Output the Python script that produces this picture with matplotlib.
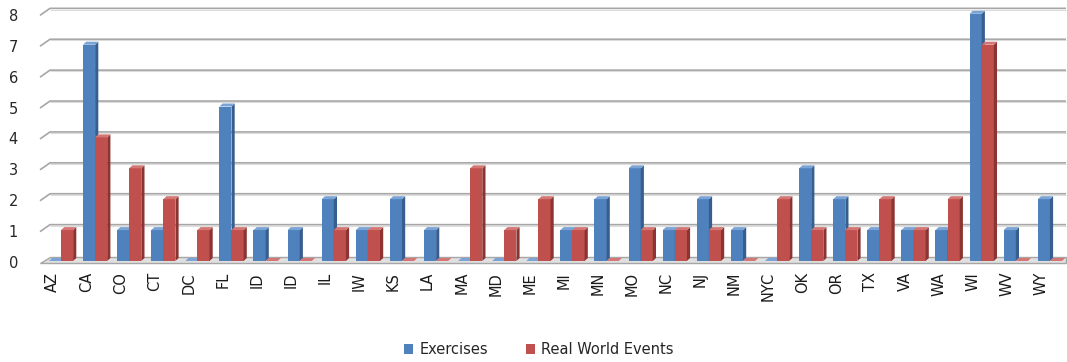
import matplotlib
matplotlib.use("Agg")
import matplotlib.pyplot as plt
from matplotlib.patches import Polygon, Patch
import numpy as np

categories = ["AZ", "CA", "CO", "CT", "DC", "FL", "ID", "ID", "IL", "IW", "KS", "LA", "MA", "MD",
              "ME", "MI", "MN", "MO", "NC", "NJ", "NM", "NYC", "OK", "OR", "TX", "VA", "WA", "WI",
              "WV", "WY"]
exercises = [0, 7, 1, 1, 0, 5, 1, 1, 2, 1, 2, 1, 0, 0, 0, 1, 2, 3, 1, 2, 1, 0, 3, 2, 1, 1, 1, 8, 1, 2]
real_world = [1, 4, 3, 2, 1, 1, 0, 0, 1, 1, 0, 0, 3, 1, 2, 1, 0, 1, 1, 1, 0, 2, 1, 1, 2, 1, 2, 7, 0, 0]
yticks = [0, 1, 2, 3, 4, 5, 6, 7, 8]

W, H = 1067, 362
fig = plt.figure(figsize=(W / 100, H / 100), dpi=100)
ax_left_px, ax_right_px = 40, 1066
y0_px, ppu = 261, 30.9
ymax = 8.35
ax_bottom_px = H - y0_px
ax = fig.add_axes([ax_left_px / W, ax_bottom_px / H, (ax_right_px - ax_left_px) / W, ymax * ppu / H])

spacing = 34.1
x0c = 61
xmin = (ax_left_px - x0c) / spacing
xmax = (ax_right_px - x0c) / spacing
ax.set_xlim(xmin, xmax)
ax.set_ylim(0, ymax)
ax.set_axis_off()

dxu = 3.2 / spacing   # depth offset in x (data units)
dyu = 3.0 / ppu       # depth offset in y (data units)
gdx = 10 / spacing
gdy = 7 / ppu

# back wall gridlines with slanted left end
for v in yticks[1:]:
    ax.plot([xmin, xmin + gdx, xmax], [v - 0.05, v + gdy - 0.05, v + gdy - 0.05], color="#a6a6a6",
            lw=1.2, solid_capstyle="butt", zorder=1, clip_on=False)
    ax.plot([xmin + gdx, xmax], [v + gdy - 0.09, v + gdy - 0.09], color="#dcdcdc",
            lw=0.8, solid_capstyle="butt", zorder=1, clip_on=False)
# floor
floor = Polygon([(xmin, -0.07), (xmax, -0.07), (xmax, gdy * 0.55), (xmin + gdx, gdy * 0.55)],
                closed=True, facecolor="#e0e0e0", edgecolor="#a6a6a6", lw=1.0, zorder=1, clip_on=False)
ax.add_patch(floor)

x = np.arange(len(categories))
w = 0.355
series = [(exercises, -w / 2, "#4f81bd", "#375e8f", "#7aa3d6"),
          (real_world, w / 2, "#c0504d", "#8b3431", "#d47673")]
for vals, off, face, side, top in series:
    xs = x + off
    ax.bar(xs, vals, width=w, color=face, edgecolor="none", zorder=3)
    for xc, h in zip(xs, vals):
        r = xc + w / 2
        l = xc - w / 2
        ax.add_patch(Polygon([(r, 0), (r + dxu, dyu), (r + dxu, h + dyu), (r, h)], closed=True,
                             facecolor=side, edgecolor="none", zorder=3))
        ax.add_patch(Polygon([(l, h), (r, h), (r + dxu, h + dyu), (l + dxu, h + dyu)], closed=True,
                             facecolor=top, edgecolor="none", zorder=3))

# y tick labels
for v in yticks:
    ax.text(xmin - 22 / spacing, v - 2.5 / ppu, str(v), ha="right", va="center", fontsize=10.5,
            color="#262626", clip_on=False)
# x tick labels
for i, c in enumerate(categories):
    ax.text(i - 0.25, -11 / ppu, c, rotation=90, ha="center", va="top", fontsize=10.5,
            color="#1a1a1a", clip_on=False)

handles = [Patch(facecolor="#4f81bd", label="Exercises"), Patch(facecolor="#c0504d", label="Real World Events")]
fig.legend(handles=handles, loc="center", bbox_to_anchor=(0.505, 0.034), ncol=2, frameon=False,
           fontsize=10.5, handlelength=0.65, handleheight=0.65, handletextpad=0.4, columnspacing=2.6,
           labelcolor="#262626")

fig.savefig("out.png", dpi=100)
